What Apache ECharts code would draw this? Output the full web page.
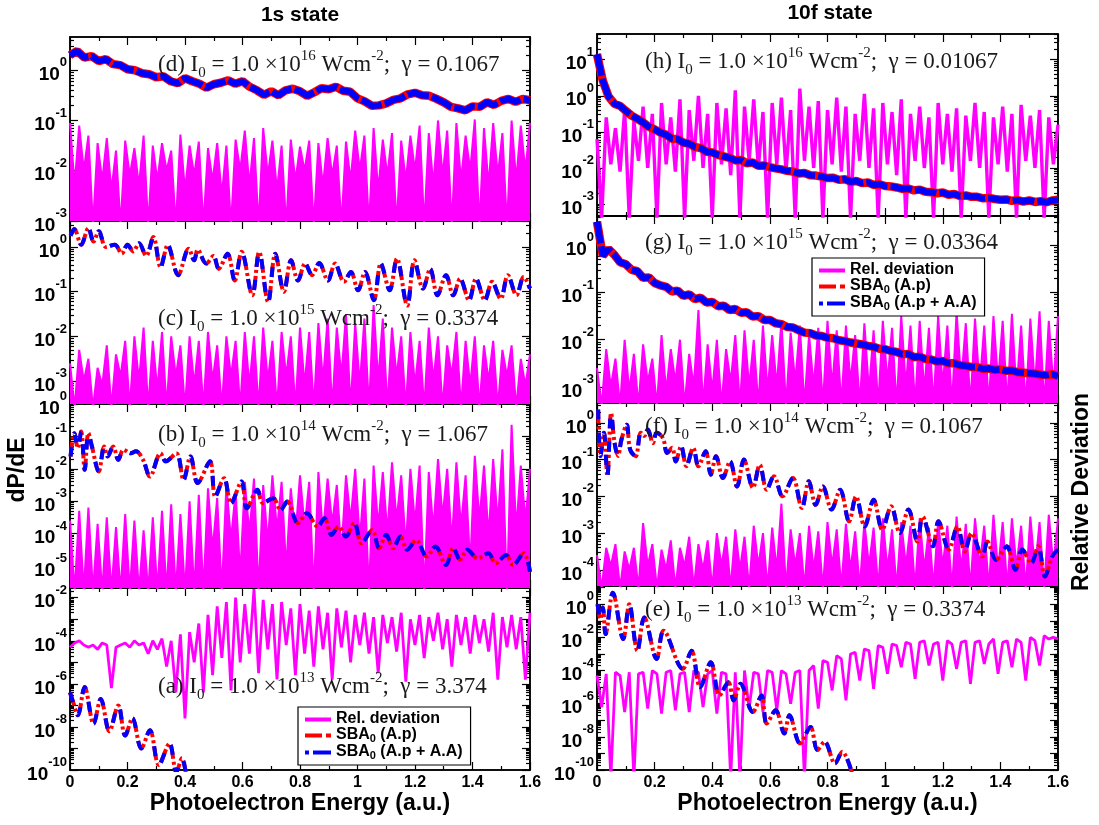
<!DOCTYPE html>
<html>
<head>
<meta charset="utf-8">
<script src="https://cdn.jsdelivr.net/npm/echarts@6/dist/echarts.min.js"></script>
<style>
html,body{margin:0;padding:0;background:#fff;}
#chart{width:1099px;height:825px;}
</style>
</head>
<body>
<div id="chart"></div>
<script>
// ================= DATA (all dP/dE and deviation values are stored as log10 of the value) =================
// Energy grids (a.u.)
const relDevStep = 0.016;   // grid of the relative-deviation traces (101 points, 0..1.6)
const noisyStepD = 0.025;   // grid of panel (d) spectra (65 points)
const noisyStepGH = 0.02;   // grid of panels (g),(h) spectra (81 points)

// ---- 1s state ----
// (d) I0 = 1e16
const relDev_d = [
-1.05,-2.3,-1.1,-2.0,-1.3,-3.1,-1.45,-2.2,-1.35,-2.4,
-1.6,-3.1,-1.4,-2.1,-1.55,-2.3,-1.3,-3.1,-1.5,-2.2,
-1.45,-2.0,-1.6,-3.1,-1.28,-2.4,-1.5,-2.1,-1.42,-3.1,
-1.55,-2.2,-1.45,-2.5,-1.5,-3.1,-1.38,-2.0,-1.2,-2.3,
-1.35,-3.1,-1.15,-2.1,-1.4,-2.4,-1.5,-3.1,-1.38,-2.2,
-1.52,-2.0,-1.4,-3.1,-1.45,-2.3,-1.35,-2.1,-1.5,-3.1,
-1.42,-2.2,-1.2,-2.0,-1.3,-3.1,-1.15,-2.4,-1.38,-2.1,
-1.25,-3.1,-1.4,-2.2,-1.3,-2.0,-1.1,-3.1,-1.25,-2.3,
-1.0,-2.1,-1.2,-3.1,-1.05,-2.2,-1.3,-2.0,-0.98,-3.1,
-1.15,-2.3,-1.05,-2.1,-1.25,-3.1,-1.0,-2.2,-1.1,-2.0,
-1.05];
const sba_d = [
0.30,0.38,0.25,0.28,0.18,0.22,0.12,0.10,0.02,0.0,
-0.06,-0.08,-0.14,-0.12,-0.22,-0.26,-0.16,-0.22,-0.27,-0.35,
-0.28,-0.25,-0.20,-0.27,-0.22,-0.33,-0.40,-0.49,-0.42,-0.50,
-0.40,-0.37,-0.42,-0.51,-0.44,-0.36,-0.38,-0.33,-0.41,-0.43,
-0.56,-0.62,-0.71,-0.70,-0.66,-0.59,-0.56,-0.48,-0.45,-0.50,
-0.51,-0.57,-0.64,-0.73,-0.76,-0.80,-0.72,-0.73,-0.64,-0.69,
-0.61,-0.57,-0.63,-0.57,-0.60];

// (c) I0 = 1e15
const relDev_c = [
-2.6,-3.6,-2.3,-3.0,-2.5,-3.6,-2.7,-3.1,-2.2,-3.6,
-2.4,-2.9,-2.1,-3.6,-2.0,-3.0,-1.8,-3.6,-2.1,-3.2,
-1.9,-3.6,-2.0,-2.9,-2.2,-3.6,-2.0,-3.1,-2.1,-3.6,
-1.9,-3.0,-2.2,-3.6,-2.0,-2.9,-2.1,-3.6,-1.9,-3.1,
-2.0,-3.6,-1.8,-3.0,-2.1,-3.6,-1.9,-2.9,-2.0,-3.6,
-1.8,-3.1,-1.9,-3.6,-1.7,-3.0,-1.6,-3.6,-1.8,-2.9,
-1.5,-3.6,-1.7,-3.1,-1.6,-3.6,-1.3,-3.0,-1.6,-3.6,
-1.8,-2.9,-2.0,-3.6,-1.9,-3.1,-2.1,-3.6,-1.8,-3.0,
-2.0,-3.6,-2.2,-2.9,-1.9,-3.6,-2.1,-3.1,-2.0,-3.6,
-2.2,-3.0,-2.1,-3.6,-2.3,-2.9,-2.2,-3.6,-2.5,-3.1,
-2.4];
const sbaE_c = [0.002,0.015,0.039,0.064,0.082,0.1,0.125,0.156,0.18,0.2,0.22,0.24,0.265,0.29,0.315,0.34,0.376,0.413,0.432,0.444,0.474,0.499,0.517,0.548,0.573,0.597,0.634,0.658,0.689,0.714,0.744,0.769,0.793,0.818,0.842,0.867,0.897,0.922,0.953,0.977,1.002,1.026,1.057,1.081,1.112,1.137,1.173,1.198,1.228,1.253,1.278,1.308,1.333,1.357,1.388,1.412,1.443,1.468,1.498,1.523,1.553,1.578,1.6];
const sba_c = [0.25,0.4,0.05,0.42,0.12,0.35,0.0,0.05,-0.15,0.05,-0.1,0.08,-0.2,0.22,-0.45,0.04,-0.63,-0.04,-0.3,-0.06,-0.37,-0.2,-0.49,-0.15,-0.75,-0.11,-1.08,-0.11,-1.23,-0.15,-1.0,-0.3,-0.75,-0.37,-0.63,-0.36,-0.75,-0.37,-0.78,-0.56,-0.97,-0.56,-1.19,-0.37,-0.97,-0.26,-1.31,-0.3,-0.93,-0.49,-1.08,-0.63,-1.08,-0.71,-1.19,-0.71,-1.19,-0.78,-1.16,-0.63,-1.08,-0.67,-0.93];

// (b) I0 = 1e14
const relDev_b = [
-3.6,-5.8,-3.3,-5.8,-3.2,-5.8,-3.7,-5.8,-3.5,-5.8,
-3.8,-5.8,-3.4,-5.8,-3.6,-5.8,-3.9,-5.8,-3.5,-5.8,
-3.3,-5.8,-3.1,-5.8,-3.4,-5.8,-3.0,-5.8,-2.8,-5.8,
-2.6,-4.5,-2.9,-5.8,-2.5,-4.2,-2.7,-5.3,-2.4,-4.0,
-2.3,-5.8,-2.5,-4.3,-2.2,-3.9,-2.4,-5.1,-2.6,-4.1,
-2.2,-3.8,-2.4,-5.8,-2.1,-4.0,-2.3,-3.7,-2.5,-4.6,
-2.2,-3.6,-2.0,-4.2,-2.3,-5.8,-1.9,-3.8,-2.1,-4.0,
-1.8,-3.6,-2.2,-4.4,-2.0,-3.7,-1.9,-5.8,-2.1,-3.9,
-1.7,-3.5,-2.0,-4.3,-1.8,-3.8,-2.2,-5.0,-1.6,-3.6,
-1.9,-4.1,-1.7,-3.7,-1.4,-5.8,-0.64,-3.9,-1.9,-3.6,
-2.0];
const sbaE_b = [0.002,0.015,0.027,0.039,0.051,0.064,0.076,0.1,0.119,0.131,0.15,0.168,0.186,0.211,0.229,0.254,0.278,0.315,0.333,0.37,0.395,0.419,0.444,0.487,0.505,0.536,0.56,0.597,0.615,0.652,0.671,0.707,0.732,0.756,0.793,0.824,0.861,0.885,0.91,0.934,0.959,0.989,1.014,1.051,1.075,1.1,1.124,1.149,1.173,1.204,1.241,1.271,1.308,1.333,1.357,1.382,1.418,1.455,1.48,1.517,1.541,1.578,1.6];
const sba_b = [-1.62,-0.9,-1.36,-0.85,-2.03,-0.9,-1.3,-2.08,-1.31,-1.62,-1.31,-1.72,-1.41,-1.52,-1.46,-1.72,-2.24,-1.52,-1.77,-1.52,-2.34,-1.62,-2.44,-1.77,-2.86,-2.29,-3.06,-2.39,-3.22,-2.65,-3.06,-2.91,-3.27,-3.01,-3.68,-3.37,-3.78,-3.53,-4.04,-3.78,-4.09,-3.68,-4.3,-3.89,-4.45,-4.04,-4.45,-4.09,-4.5,-4.2,-4.71,-4.4,-4.97,-4.45,-4.81,-4.5,-4.76,-4.61,-4.92,-4.66,-4.97,-4.61,-5.18];

// (a) I0 = 1e13
const relDev_a = [
-4.3,-4.1,-4.0,-4.2,-4.3,-4.2,-4.4,-4.1,-4.2,-6.2,
-4.3,-4.2,-4.1,-4.3,-4.0,-4.2,-4.1,-4.6,-4.0,-4.4,
-3.9,-5.2,-4.0,-6.4,-3.7,-7.6,-3.6,-5.0,-3.2,-6.4,
-2.8,-5.6,-2.4,-4.8,-2.2,-6.3,-2.0,-5.0,-2.3,-4.6,
-1.6,-5.5,-2.1,-4.4,-2.3,-5.8,-2.2,-4.2,-2.5,-5.6,
-2.3,-4.6,-2.6,-5.2,-2.4,-4.4,-2.7,-5.8,-2.5,-4.3,
-2.6,-5.0,-2.8,-4.2,-2.7,-4.6,-2.9,-5.5,-2.8,-4.1,
-2.9,-4.5,-2.7,-5.9,-3.0,-4.2,-2.8,-4.8,-2.9,-4.0,
-2.7,-4.4,-3.0,-5.2,-2.8,-4.2,-2.9,-4.6,-2.8,-4.1,
-3.0,-4.5,-2.7,-5.8,-2.9,-4.3,-2.8,-4.4,-2.9,-5.8,
-2.7];
const sbaE_a = [0.0,0.012,0.027,0.051,0.082,0.107,0.137,0.168,0.192,0.217,0.248,0.278,0.309,0.346,0.37,0.389,0.407];
const sba_a = [-6.4,-6.9,-7.46,-6.15,-7.85,-6.7,-8.2,-7.0,-8.4,-7.6,-9.0,-8.15,-9.77,-8.77,-10.1,-9.46,-10.5];

// ---- 10f state ----
// (h) I0 = 1e16
const relDev_h = [
-1.2,-3.4,-0.6,-1.9,-0.9,-2.1,-0.4,-3.4,-0.7,-1.8,
-0.3,-2.0,-0.5,-3.4,-0.2,-1.9,-0.6,-2.1,-0.1,-3.4,
-0.4,-1.8,0.0,-2.0,-0.5,-3.4,-0.2,-1.9,-0.35,-2.2,
0.15,-3.4,-0.3,-1.8,-0.1,-2.0,-0.45,-3.4,-0.2,-1.9,
-0.05,-2.1,-0.4,-3.4,0.2,-1.8,-0.3,-2.0,-0.15,-3.4,
-0.4,-1.9,-0.05,-2.1,-0.3,-3.4,-0.5,-1.8,0.05,-2.0,
-0.35,-3.4,-0.2,-1.9,-0.45,-2.2,-0.1,-3.4,-0.5,-1.8,
-0.3,-2.0,-0.6,-3.4,-0.2,-1.9,-0.5,-2.1,-0.35,-3.4,
-0.55,-1.8,-0.2,-2.0,-0.45,-3.4,-0.6,-1.9,-0.3,-2.1,
-0.5,-3.4,-0.25,-1.8,-0.55,-2.0,-0.4,-3.4,-0.6,-1.9,
-0.8];
const sba_h = [
1.15,0.42,-0.02,-0.22,-0.28,-0.42,-0.55,-0.64,-0.74,-0.86,
-0.93,-1.02,-1.08,-1.19,-1.2,-1.3,-1.33,-1.42,-1.45,-1.55,
-1.57,-1.64,-1.68,-1.72,-1.79,-1.78,-1.87,-1.85,-1.94,-1.93,
-1.98,-2.01,-2.04,-2.08,-2.1,-2.15,-2.14,-2.2,-2.21,-2.24,
-2.28,-2.27,-2.33,-2.31,-2.38,-2.36,-2.42,-2.4,-2.47,-2.45,
-2.5,-2.51,-2.54,-2.58,-2.57,-2.62,-2.6,-2.66,-2.67,-2.7,
-2.68,-2.74,-2.72,-2.78,-2.76,-2.8,-2.8,-2.84,-2.83,-2.86,
-2.88,-2.87,-2.91,-2.89,-2.93,-2.9,-2.94,-2.92,-2.95,-2.9,
-2.88];

// (g) I0 = 1e15
const relDev_g = [
-2.6,-3.4,-2.2,-3.0,-2.4,-3.4,-2.0,-3.1,-2.3,-3.4,
-2.1,-2.9,-2.4,-3.4,-1.9,-3.1,-2.2,-2.9,-2.0,-3.4,
-2.3,-3.0,-1.37,-3.4,-2.1,-3.1,-2.0,-3.4,-2.2,-2.9,
-1.9,-3.4,-1.8,-3.0,-2.0,-3.4,-1.7,-3.1,-1.9,-3.0,
-1.6,-3.4,-1.85,-2.9,-1.7,-3.4,-1.9,-3.0,-1.75,-3.4,
-1.6,-3.0,-1.8,-3.4,-1.7,-2.9,-1.9,-3.4,-1.65,-3.1,
-1.8,-3.4,-1.6,-2.9,-1.75,-3.4,-1.5,-3.0,-1.7,-3.4,
-1.6,-3.1,-1.75,-3.4,-1.5,-3.0,-1.7,-3.4,-1.4,-2.9,
-1.65,-3.4,-1.55,-3.0,-1.7,-3.4,-1.5,-2.9,-1.6,-3.4,
-1.45,-3.1,-1.7,-3.4,-1.55,-3.0,-1.4,-3.4,-1.6,-3.0,
-1.5];
const sba_g = [
0.5,-0.22,-0.08,-0.2,-0.36,-0.4,-0.52,-0.55,-0.69,-0.68,
-0.8,-0.85,-0.88,-0.98,-0.96,-1.07,-1.04,-1.14,-1.11,-1.21,
-1.2,-1.29,-1.28,-1.37,-1.35,-1.43,-1.42,-1.51,-1.5,-1.58,
-1.58,-1.65,-1.67,-1.73,-1.74,-1.8,-1.85,-1.86,-1.91,-1.92,
-1.96,-1.97,-2.01,-2.03,-2.06,-2.08,-2.1,-2.13,-2.15,-2.19,
-2.2,-2.24,-2.26,-2.31,-2.3,-2.37,-2.36,-2.41,-2.42,-2.46,
-2.45,-2.5,-2.5,-2.54,-2.55,-2.58,-2.58,-2.62,-2.61,-2.64,
-2.63,-2.66,-2.65,-2.69,-2.7,-2.71,-2.72,-2.74,-2.75,-2.73,
-2.77];

// (f) I0 = 1e14
const relDev_f = [
-3.6,-4.5,-3.4,-3.9,-3.3,-4.5,-3.5,-4.0,-3.4,-4.5,
-2.73,-3.9,-3.3,-4.5,-3.45,-4.0,-3.2,-4.5,-3.4,-3.9,
-3.1,-4.5,-3.3,-4.0,-3.2,-4.5,-3.0,-3.9,-3.1,-4.5,
-2.9,-4.0,-3.1,-4.5,-2.8,-3.9,-3.0,-4.5,-2.85,-4.0,
-2.2,-4.5,-2.9,-3.9,-3.0,-4.5,-2.8,-4.0,-2.95,-4.5,
-2.7,-3.9,-2.9,-4.5,-2.75,-4.0,-2.95,-4.5,-2.7,-3.9,
-2.85,-4.5,-2.6,-4.0,-2.9,-4.5,-2.7,-3.9,-2.8,-4.5,
-2.6,-4.0,-2.85,-4.5,-2.65,-3.9,-2.8,-4.5,-2.55,-4.0,
-2.75,-4.5,-2.6,-3.9,-2.8,-4.5,-2.5,-4.0,-2.7,-4.5,
-2.6,-3.9,-2.8,-4.5,-2.55,-4.0,-2.7,-4.5,-2.5,-3.9,
-2.6];
const sbaE_f = [0.004,0.012,0.024,0.036,0.049,0.061,0.073,0.085,0.103,0.115,0.134,0.152,0.164,0.176,0.194,0.207,0.219,0.231,0.243,0.261,0.273,0.292,0.31,0.334,0.352,0.377,0.395,0.413,0.437,0.462,0.486,0.51,0.541,0.565,0.589,0.614,0.644,0.68,0.711,0.735,0.759,0.784,0.814,0.844,0.875,0.899,0.929,0.96,0.99,1.021,1.051,1.081,1.112,1.13,1.166,1.185,1.221,1.251,1.276,1.3,1.337,1.355,1.385,1.422,1.452,1.476,1.507,1.531,1.555,1.58,1.6];
const sba_f = [0.36,-0.9,-0.27,-1.45,0.27,-0.55,-0.9,-0.45,-0.05,-0.73,-0.91,-0.27,-0.36,-0.18,-0.55,-0.27,-0.32,-0.45,-0.82,-0.68,-1.05,-0.64,-1.18,-0.68,-1.18,-0.77,-1.41,-0.91,-1.5,-1.05,-1.73,-1.0,-1.77,-1.14,-1.82,-1.45,-2.0,-1.5,-2.32,-1.59,-2.23,-1.73,-2.36,-1.82,-2.68,-2.0,-2.82,-2.09,-2.91,-2.27,-3.0,-2.36,-3.23,-2.55,-3.36,-2.68,-3.45,-2.82,-3.5,-3.0,-3.64,-3.23,-3.73,-3.36,-4.0,-3.45,-3.82,-3.36,-4.18,-3.64,-3.45];

// (e) I0 = 1e13
const relDev_e = [
-4.3,-6.2,-4.2,-10.5,-4.1,-4.3,-6.5,-4.1,-10.5,-4.2,
-4.1,-6.3,-4.0,-4.2,-6.6,-4.1,-4.0,-6.4,-4.2,-4.1,
-6.5,-4.0,-4.1,-6.2,-4.2,-4.0,-6.6,-4.1,-4.2,-10.5,
-4.1,-10.5,-4.0,-6.3,-4.1,-4.2,-6.5,-4.0,-4.1,-6.4,
-4.0,-4.2,-6.0,-4.1,-4.0,-10.5,-4.0,-3.7,-6.3,-3.4,
-3.5,-5.2,-3.1,-3.3,-5.8,-3.0,-2.9,-4.6,-2.7,-2.8,
-5.1,-2.5,-2.6,-4.2,-2.4,-2.5,-3.8,-2.3,-2.4,-4.5,
-2.3,-2.2,-3.7,-2.4,-2.3,-4.6,-2.2,-2.4,-3.9,-2.3,
-2.2,-4.8,-2.3,-2.2,-3.6,-2.4,-2.1,-4.2,-2.3,-2.2,
-3.8,-2.1,-2.3,-4.6,-2.0,-2.2,-3.7,-1.9,-2.1,-2.0,
-2.1];
const sbaE_e = [0.002,0.012,0.02,0.03,0.055,0.091,0.112,0.14,0.164,0.207,0.231,0.298,0.328,0.358,0.395,0.425,0.456,0.474,0.498,0.541,0.571,0.589,0.62,0.65,0.668,0.705,0.741,0.765,0.79,0.826,0.851,0.887];
const sba_e = [0.0,-0.9,-0.2,-1.8,0.7,-2.1,0.0,-2.8,-0.8,-3.3,-1.6,-3.9,-2.8,-5.0,-3.5,-5.5,-4.7,-5.8,-4.8,-6.5,-5.5,-7.2,-6.4,-7.8,-6.7,-8.4,-7.4,-8.8,-8.3,-9.6,-8.9,-10.3];

// Panel texts
const panelTexts = {
  d: {tag:'(d)', exp:'16', gamma:'0.1067'},
  c: {tag:'(c)', exp:'15', gamma:'0.3374'},
  b: {tag:'(b)', exp:'14', gamma:'1.067'},
  a: {tag:'(a)', exp:'13', gamma:'3.374'},
  h: {tag:'(h)', exp:'16', gamma:'0.01067'},
  g: {tag:'(g)', exp:'15', gamma:'0.03364'},
  f: {tag:'(f)', exp:'14', gamma:'0.1067'},
  e: {tag:'(e)', exp:'13', gamma:'0.3374'}
};
const NAME_REL = 'Rel. deviation';
const NAME_AP = 'SBA0 (A.p)';
const NAME_AA = 'SBA0 (A.p + A.A)';

// ================= BUILD =================
function onGrid(step, vals) { return vals.map((v, i) => [Math.round(i * step * 10000) / 10000, v]); }
function pairs(xs, ys) { return xs.map((x, i) => [x, ys[i]]); }

const panels = [
  {id:'d', rel:onGrid(relDevStep, relDev_d), sba:onGrid(noisyStepD, sba_d), noisy:true, fill:true},
  {id:'c', rel:onGrid(relDevStep, relDev_c), sba:pairs(sbaE_c, sba_c), noisy:false, fill:true},
  {id:'b', rel:onGrid(relDevStep, relDev_b), sba:pairs(sbaE_b, sba_b), noisy:false, fill:true},
  {id:'a', rel:onGrid(relDevStep, relDev_a), sba:pairs(sbaE_a, sba_a), noisy:false, fill:false},
  {id:'h', rel:onGrid(relDevStep, relDev_h), sba:onGrid(noisyStepGH, sba_h), noisy:true, fill:false},
  {id:'g', rel:onGrid(relDevStep, relDev_g), sba:onGrid(noisyStepGH, sba_g), noisy:true, fill:true},
  {id:'f', rel:onGrid(relDevStep, relDev_f), sba:pairs(sbaE_f, sba_f), noisy:false, fill:true},
  {id:'e', rel:onGrid(relDevStep, relDev_e), sba:pairs(sbaE_e, sba_e), noisy:false, fill:false}
];

// layout (pixels) and axis ranges (log10 units)
const layout = {
  d:{left:70, top:37, width:460, height:184, ymin:-3, ymax:0.66, step:1},
  c:{left:70, top:221, width:460, height:183, ymin:-3.51, ymax:0.58, step:1},
  b:{left:70, top:404, width:460, height:184, ymin:-5.68, ymax:0, step:1},
  a:{left:70, top:588, width:460, height:182, ymin:-10, ymax:-1.55, step:2, bottom:true},
  h:{left:597, top:34, width:461, height:182, ymin:-3.33, ymax:1.71, step:1},
  g:{left:597, top:216, width:461, height:187, ymin:-3.34, ymax:0.62, step:1},
  f:{left:597, top:403, width:461, height:183, ymin:-4.44, ymax:0.54, step:1},
  e:{left:597, top:586, width:461, height:184, ymin:-10, ymax:1.1, step:2, bottom:true}
};
const annPos = {
  d:{left:158, cy:65}, c:{left:158, cy:319}, b:{left:158, cy:435}, a:{left:158, cy:687},
  h:{left:645, cy:62}, g:{left:645, cy:243}, f:{left:645, cy:427}, e:{left:645, cy:610}
};

const SANS = "'Liberation Sans', Arial, Helvetica, sans-serif";
const SERIF = "'Liberation Serif', 'Times New Roman', serif";
const MAG = '#ff00ff', RED = '#ff0000', BLUE = '#0000ff';

const tickRich = {
  b: {fontFamily:SANS, fontWeight:'bold', fontSize:19, color:'#000', lineHeight:28, verticalAlign:'bottom'},
  e: {fontFamily:SANS, fontWeight:'bold', fontSize:13, color:'#000', lineHeight:13, verticalAlign:'top'}
};
const annRich = {
  m: {fontFamily:SERIF, fontWeight:'normal', fontSize:23, color:'#1a1a1a', lineHeight:32, verticalAlign:'middle'},
  sup: {fontFamily:SERIF, fontWeight:'normal', fontSize:15, color:'#1a1a1a', lineHeight:15, verticalAlign:'top'},
  sub: {fontFamily:SERIF, fontWeight:'normal', fontSize:15, color:'#1a1a1a', lineHeight:15, verticalAlign:'bottom'}
};

const option = {
  animation:false, backgroundColor:'#fff',
  grid:[], xAxis:[], yAxis:[], series:[], title:[], legend:[], graphic:[]
};

function makeX(gi, pos, showLabels) {
  return {
    gridIndex:gi, type:'value', position:pos, min:0, max:1.6, interval:0.2,
    axisLine:{show:true, onZero:false, lineStyle:{color:'#000', width:1.5}},
    axisTick:{show:true, inside:true, length:8, lineStyle:{color:'#000', width:1.2}},
    minorTick:{show:true, splitNumber:2, length:4, lineStyle:{color:'#000', width:1.2}},
    splitLine:{show:false}, minorSplitLine:{show:false},
    axisLabel: showLabels ? {show:true, margin:5, fontFamily:SANS, fontWeight:'bold', fontSize:16, color:'#000'} : {show:false},
    name: showLabels ? 'Photoelectron Energy (a.u.)' : '',
    nameLocation:'middle', nameGap:21,
    nameTextStyle:{fontFamily:SANS, fontWeight:'bold', fontSize:23, color:'#000'}
  };
}
function makeY(gi, pos, L, ticks, labels, len, showLine) {
  return {
    gridIndex:gi, type:'value', position:pos, min:L.ymin, max:L.ymax,
    axisLine:{show:showLine, onZero:false, lineStyle:{color:'#000', width:1.5}},
    axisTick:{show:true, inside:true, length:len, customValues:ticks, lineStyle:{color:'#000', width:1.2}},
    axisLabel: labels.length ? {show:true, customValues:labels, margin:3,
      formatter:(v) => '{b|10}{e|' + Math.round(v) + '}', rich:tickRich} : {show:false},
    splitLine:{show:false}, minorTick:{show:false}, minorSplitLine:{show:false}
  };
}

panels.forEach((p, gi) => {
  const L = layout[p.id];
  option.grid.push({left:L.left, top:L.top, width:L.width, height:L.height, show:true,
    borderColor:'#000', borderWidth:1.5, backgroundColor:'transparent'});
  option.xAxis.push(makeX(gi, 'bottom', !!L.bottom));
  option.xAxis.push(makeX(gi, 'top', false));
  const majors = [];
  for (let n = Math.ceil(L.ymin); n <= Math.floor(L.ymax); n++) majors.push(n);
  const labels = majors.filter(n => n % L.step === 0);
  const minors = [];
  for (let n = Math.floor(L.ymin); n <= Math.ceil(L.ymax); n++) {
    for (let k = 2; k <= 9; k++) { const v = n + Math.log10(k); if (v > L.ymin && v < L.ymax) minors.push(v); }
  }
  option.yAxis.push(makeY(gi, 'left', L, majors, labels, 8, true));
  option.yAxis.push(makeY(gi, 'right', L, majors, [], 8, true));
  option.yAxis.push(makeY(gi, 'left', L, minors, [], 4, false));
  option.yAxis.push(makeY(gi, 'right', L, minors, [], 4, false));

  const xi = 2 * gi, yi = 4 * gi;
  const rel = {type:'line', name:NAME_REL, xAxisIndex:xi, yAxisIndex:yi, data:p.rel,
    symbol:'none', clip:true, silent:true, z:2,
    lineStyle:{color:MAG, width:p.fill ? 2 : (p.noisy ? 3.4 : 2.8)}, itemStyle:{color:MAG}};
  if (p.fill) rel.areaStyle = {color:MAG, opacity:1, origin:'start'};
  option.series.push(rel);
  if (p.noisy) {
    option.series.push({type:'line', name:NAME_AP, xAxisIndex:xi, yAxisIndex:yi, data:p.sba,
      symbol:'none', clip:true, silent:true, z:3,
      lineStyle:{color:RED, width:8.5}, itemStyle:{color:RED}});
    option.series.push({type:'line', name:NAME_AA, xAxisIndex:xi, yAxisIndex:yi, data:p.sba,
      symbol:'none', clip:true, silent:true, z:4,
      lineStyle:{color:BLUE, width:6.5, type:[22,3]}, itemStyle:{color:BLUE}});
  } else {
    option.series.push({type:'line', name:NAME_AP, xAxisIndex:xi, yAxisIndex:yi, data:p.sba,
      symbol:'none', clip:true, silent:true, z:3, smooth:0.35,
      lineStyle:{color:RED, width:4, type:[14,3,3,3]}, itemStyle:{color:RED}});
    option.series.push({type:'line', name:NAME_AA, xAxisIndex:xi, yAxisIndex:yi, data:p.sba,
      symbol:'none', clip:true, silent:true, z:4, smooth:0.35,
      lineStyle:{color:BLUE, width:4, type:[10,13]}, itemStyle:{color:BLUE}});
  }

  const t = panelTexts[p.id], ap = annPos[p.id];
  option.title.push({
    left:ap.left, top:ap.cy - 16, padding:0, z:8,
    text:'{m|' + t.tag + ' I}{sub|0}{m| = 1.0 \u00d710}{sup|' + t.exp + '}{m| Wcm}{sup|-2}{m|;  \u03b3 = ' + t.gamma + '}',
    textStyle:{fontWeight:'normal', rich:annRich}
  });
});

const legendRich = {
  t: {fontFamily:SANS, fontWeight:'bold', fontSize:16, color:'#000', lineHeight:17, verticalAlign:'top'},
  s: {fontFamily:SANS, fontWeight:'bold', fontSize:11, color:'#000', lineHeight:10, verticalAlign:'bottom'}
};
function legendFmt(name) {
  if (name === NAME_AP) return '{t|SBA}{s|0}{t| (A.p)}';
  if (name === NAME_AA) return '{t|SBA}{s|0}{t| (A.p + A.A)}';
  return '{t|' + name + '}';
}
// legend samples: solid magenta bar, red dash-dot, blue dot-dash
const legendData = [
  {name:NAME_REL, icon:'rect'},
  {name:NAME_AP, icon:'path://M0,0h17v4h-17z M21,0h5v4h-5z'},
  {name:NAME_AA, icon:'path://M0,0h4v4h-4z M8,0h18v4h-18z'}
];
const legendBase = {
  orient:'vertical', itemWidth:26, itemHeight:4, itemGap:0, padding:[4,8,4,7],
  borderColor:'#000', borderWidth:1.2, backgroundColor:'#fff', borderRadius:0,
  selectedMode:false, z:10, data:legendData, formatter:legendFmt,
  textStyle:{fontFamily:SANS, fontWeight:'bold', fontSize:16, color:'#000', rich:legendRich}
};
option.legend.push(Object.assign({}, legendBase, {left:298, top:707}));
option.legend.push(Object.assign({}, legendBase, {left:812, top:258}));

option.graphic = [
  {type:'text', x:300, y:15, style:{text:'1s state', font:'bold 21px ' + SANS, fill:'#000', align:'center', verticalAlign:'middle', textAlign:'center', textVerticalAlign:'middle'}},
  {type:'text', x:830, y:13, style:{text:'10f state', font:'bold 21px ' + SANS, fill:'#000', align:'center', verticalAlign:'middle', textAlign:'center', textVerticalAlign:'middle'}},
  {type:'text', x:18, y:470, rotation:Math.PI / 2, style:{text:'dP/dE', font:'bold 23px ' + SANS, fill:'#000', align:'center', verticalAlign:'middle', textAlign:'center', textVerticalAlign:'middle'}},
  {type:'text', x:1082, y:492, rotation:Math.PI / 2, style:{text:'Relative Deviation', font:'bold 23px ' + SANS, fill:'#000', align:'center', verticalAlign:'middle', textAlign:'center', textVerticalAlign:'middle'}}
];

const chart = echarts.init(document.getElementById('chart'), null, {renderer:'canvas'});
chart.setOption(option);
</script>
</body>
</html>
